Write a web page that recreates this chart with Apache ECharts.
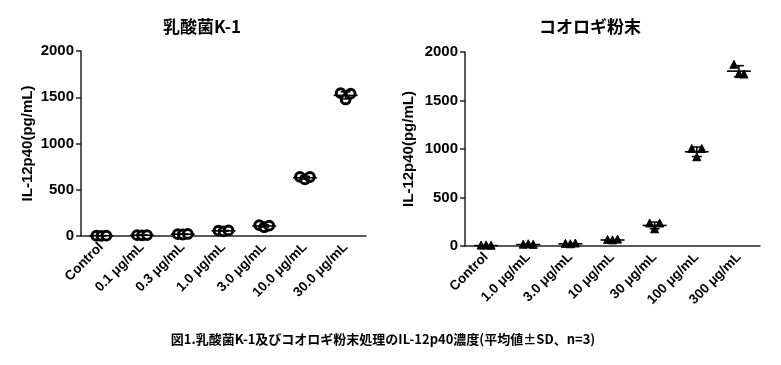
<!DOCTYPE html>
<html>
<head>
<meta charset="utf-8">
<script src="https://cdn.jsdelivr.net/npm/echarts@6/dist/echarts.min.js"></script>
<style>
html,body{margin:0;padding:0;background:#fff;}
#chart{width:781px;height:365px;}
</style>
</head>
<body>
<div id="chart"></div>
<script>
// ---- data ----
const titleLeft = '乳酸菌K-1';
const titleRight = 'コオロギ粉末';
const yAxisName = 'IL-12p40(pg/mL)';
const caption = '図1.乳酸菌K-1及びコオロギ粉末処理のIL-12p40濃度(平均値±SD、n=3)';
const yTicks = [0, 500, 1000, 1500, 2000];

const catsK1 = ['Control', '0.1 μg/mL', '0.3 μg/mL', '1.0 μg/mL', '3.0 μg/mL', '10.0 μg/mL', '30.0 μg/mL'];
// three replicates per group (left, middle, right as plotted)
const k1Rep1 = [3, 9, 20, 58, 118, 640, 1545];
const k1Rep2 = [2, 7, 16, 50, 95, 612, 1476];
const k1Rep3 = [4, 10, 22, 60, 112, 638, 1540];

const catsCricket = ['Control', '1.0 μg/mL', '3.0 μg/mL', '10 μg/mL', '30 μg/mL', '100 μg/mL', '300 μg/mL'];
const crRep1 = [4, 14, 22, 62, 232, 1000, 1868];
const crRep2 = [6, 18, 18, 58, 172, 915, 1772];
const crRep3 = [3, 12, 26, 66, 232, 1000, 1768];

// ---- helpers ----
function buildRows(a, b, c) {
  return a.map((v, i) => [i, a[i], b[i], c[i]]);
}
function makeRender(symbol) {
  return function (params, api) {
    const idx = api.value(0);
    const vals = [api.value(1), api.value(2), api.value(3)];
    const mean = (vals[0] + vals[1] + vals[2]) / 3;
    const sd = Math.sqrt(vals.reduce((s, v) => s + (v - mean) * (v - mean), 0) / 2);
    const pm = api.coord([idx, mean]);
    const ph = api.coord([idx, mean + sd]);
    const pl = api.coord([idx, mean - sd]);
    const cx = pm[0];
    const children = [];
    const offs = [-5, 0, 5];
    const lineStyle = { stroke: '#000', lineWidth: 1.5 };
    vals.forEach((v, k) => {
      const p = api.coord([idx, v]);
      const x = p[0] + offs[k];
      if (symbol === 'circle') {
        children.push({ type: 'circle', shape: { cx: x, cy: p[1], r: 4.4 },
          style: { fill: '#fff', stroke: '#000', lineWidth: 3 } });
      } else {
        children.push({ type: 'polygon', shape: { points: [[x, p[1] - 4.5], [x - 4, p[1] + 3.5], [x + 4, p[1] + 3.5]] },
          style: { fill: '#000', stroke: '#000', lineWidth: 1 } });
      }
    });
    children.push({ type: 'line', shape: { x1: cx, y1: ph[1], x2: cx, y2: pl[1] }, style: lineStyle });
    children.push({ type: 'line', shape: { x1: cx - 5, y1: ph[1], x2: cx + 5, y2: ph[1] }, style: lineStyle });
    children.push({ type: 'line', shape: { x1: cx - 5, y1: pl[1], x2: cx + 5, y2: pl[1] }, style: lineStyle });
    children.push({ type: 'line', shape: { x1: cx - 12, y1: pm[1], x2: cx + 12, y2: pm[1] }, style: { stroke: '#000', lineWidth: 1.6 } });
    return { type: 'group', children: children };
  };
}

const tickFont = 'Liberation Sans';
function xAxisCfg(cats, gridIndex) {
  return {
    type: 'category', gridIndex: gridIndex, data: cats, boundaryGap: true,
    axisLine: { lineStyle: { color: '#222', width: 1.5 } },
    axisTick: { alignWithLabel: true, length: 5, lineStyle: { color: '#222', width: 1.5 } },
    axisLabel: { rotate: 45, margin: 9, color: '#000', fontSize: 13.5, fontWeight: 'bold', fontFamily: tickFont },
    splitLine: { show: false }
  };
}
function yAxisCfg(gridIndex, gap) {
  return {
    type: 'value', gridIndex: gridIndex, min: yTicks[0], max: yTicks[yTicks.length - 1], interval: 500,
    name: yAxisName, nameLocation: 'middle', nameRotate: 90, nameGap: gap,
    nameTextStyle: { color: '#000', fontSize: 15, fontWeight: 'bold', fontFamily: tickFont },
    axisLine: { show: true, lineStyle: { color: '#222', width: 1.5 } },
    axisTick: { show: true, length: 5, lineStyle: { color: '#222', width: 1.5 } },
    axisLabel: { margin: 7, color: '#000', fontSize: 15, fontWeight: 'bold', fontFamily: tickFont,
      formatter: (v) => String(v) },
    splitLine: { show: false }
  };
}

const chart = echarts.init(document.getElementById('chart'), null, { renderer: 'canvas' });
chart.setOption({
  backgroundColor: '#fff',
  animation: false,
  grid: [
    { left: 81, top: 51, width: 285, height: 185 },
    { left: 465, top: 52, width: 295, height: 194 }
  ],
  xAxis: [xAxisCfg(catsK1, 0), xAxisCfg(catsCricket, 1)],
  yAxis: [yAxisCfg(0, 46), yAxisCfg(1, 49)],
  series: [
    { type: 'custom', xAxisIndex: 0, yAxisIndex: 0, renderItem: makeRender('circle'),
      encode: { x: 0, y: [1, 2, 3] }, data: buildRows(k1Rep1, k1Rep2, k1Rep3), clip: false },
    { type: 'custom', xAxisIndex: 1, yAxisIndex: 1, renderItem: makeRender('triangle'),
      encode: { x: 0, y: [1, 2, 3] }, data: buildRows(crRep1, crRep2, crRep3), clip: false }
  ],
  graphic: [
    { type: 'text', x: 202, y: 27, style: { text: titleLeft, align: 'center', verticalAlign: 'middle',
      fill: '#000', font: 'bold 17px "Noto Sans CJK JP"' } },
    { type: 'text', x: 590, y: 27, style: { text: titleRight, align: 'center', verticalAlign: 'middle',
      fill: '#000', font: 'bold 17px "Noto Sans CJK JP"' } },
    { type: 'text', x: 383, y: 339, style: { text: caption, align: 'center', verticalAlign: 'middle',
      fill: '#000', font: 'bold 13px "Noto Sans CJK JP"' } }
  ]
});
</script>
</body>
</html>
